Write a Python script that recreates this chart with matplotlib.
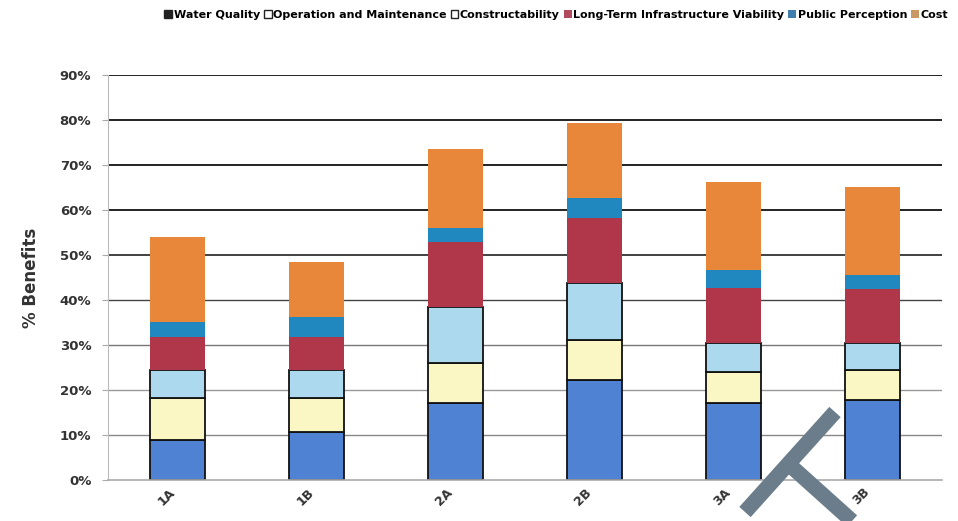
import matplotlib.pyplot as plt
from matplotlib.patches import Patch
from matplotlib.lines import Line2D
from matplotlib.ticker import PercentFormatter

alternatives = ['1A', '1B', '2A', '2B', '3A', '3B']

water_quality = [8.9, 10.7, 17.1, 22.2, 17.1, 17.8]
operation_maint = [9.3, 7.5, 8.9, 8.9, 6.9, 6.6]
constructability = [6.2, 6.2, 12.4, 12.7, 6.4, 6.0]
long_term = [7.4, 7.4, 14.5, 14.4, 12.3, 12.0]
public_perception = [3.3, 4.4, 3.1, 4.5, 4.0, 3.2]
cost = [19.0, 12.2, 17.5, 16.7, 19.5, 19.5]

series = [
    ('Water Quality', water_quality, '#4f82d3', True),
    ('Operation and Maintenance', operation_maint, '#fbf7c4', True),
    ('Constructability', constructability, '#acd9ee', True),
    ('Long-Term Infrastructure Viability', long_term, '#b03649', False),
    ('Public Perception', public_perception, '#2088bf', False),
    ('Cost', cost, '#e8873a', False),
]

fig = plt.figure(figsize=(9.58, 5.21), dpi=100)
ax = fig.add_axes([0.1127, 0.0787, 0.8706, 0.7773])

# gridlines: dark in the upper half, greyer lower down
grid_colors = ['#888888', '#999999', '#777777', '#444444', '#333333',
               '#111111', '#111111', '#111111', '#111111']
for i, c in enumerate(grid_colors):
    ax.axhline((i + 1) * 10, color=c, lw=1.3 if i > 3 else 1.0, zorder=0)

x = list(range(len(alternatives)))
bottom = [0.0] * len(alternatives)
for name, vals, color, boxed in series:
    ax.bar(x, vals, width=0.4, bottom=bottom, color=color,
           edgecolor='#111111' if boxed else 'none',
           linewidth=1.3 if boxed else 0, zorder=2)
    bottom = [b + v for b, v in zip(bottom, vals)]

ax.set_xlim(-0.5, 5.5)
ax.set_ylim(0, 90)
ax.yaxis.set_major_formatter(PercentFormatter(decimals=0))
ax.set_yticks(range(0, 91, 10))
ax.set_xticks(x)
ax.set_xticklabels(alternatives, rotation=45, ha='right', fontweight='bold',
                   fontsize=9, color='#333333')
ax.tick_params(axis='x', length=0, pad=4)
ax.tick_params(axis='y', length=4, color='#aaaaaa', labelsize=9.5,
               labelcolor='#333333', pad=8)
for lab in ax.get_yticklabels():
    lab.set_fontweight('bold')
ax.set_ylabel('% Benefits', fontsize=12, fontweight='bold', color='#333333',
              labelpad=14)

for side in ('top', 'right'):
    ax.spines[side].set_visible(False)
ax.spines['left'].set_color('#bbbbbb')
ax.spines['bottom'].set_color('#aaaaaa')
ax.spines['bottom'].set_linewidth(1.2)

handles = [
    Patch(facecolor='#222222', edgecolor='#222222'),
    Patch(facecolor='white', edgecolor='#222222'),
    Patch(facecolor='white', edgecolor='#222222'),
    Patch(facecolor='#b04a5c', edgecolor='none'),
    Patch(facecolor='#3f7fae', edgecolor='none'),
    Patch(facecolor='#c99763', edgecolor='none'),
]
fig.legend(handles, [s[0] for s in series], loc='upper right',
           bbox_to_anchor=(1.0, 1.0), ncol=6, frameon=False,
           prop={'size': 8.0, 'weight': 'bold'}, handlelength=0.7,
           handleheight=0.7, handletextpad=0.15, columnspacing=0.35,
           borderaxespad=0.5)

# grey strike mark drawn over the 3A / 3B labels
def fig_pt(px, py):
    return px / 958, 1 - py / 521

mark = '#6b7d8b'
for (x0, y0), (x1, y1) in [((745, 512), (835, 412)), ((793, 468), (852, 521))]:
    a, b = fig_pt(x0, y0)
    c, d = fig_pt(x1, y1)
    fig.add_artist(Line2D([a, c], [b, d], color=mark, lw=11,
                          solid_capstyle='butt'))

fig.savefig('out.png', dpi=100)
